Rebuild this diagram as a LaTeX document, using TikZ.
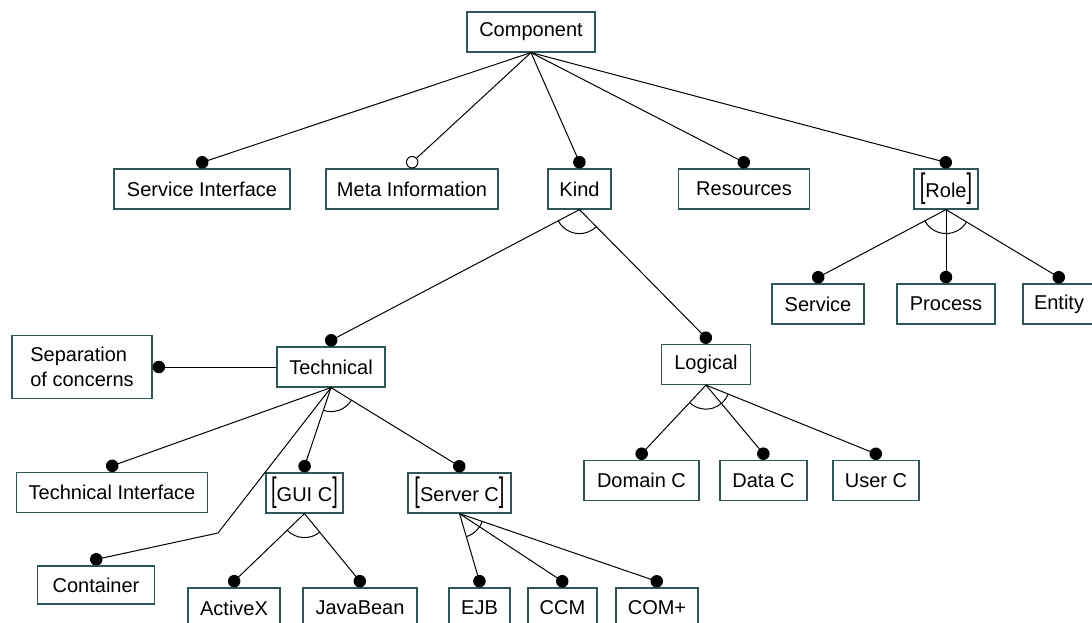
\documentclass[tikz,border=0pt]{standalone}
\usepackage{fontspec}
\usepackage{graphicx}
\setmainfont{Liberation Sans}
\usetikzlibrary{arrows.meta,calc}
\definecolor{boxline}{RGB}{50,85,85}
\newcommand{\bracketed}[1]{\scalebox{1}[1.7]{[}#1\scalebox{1}[1.7]{]}}
\newcommand{\grouparc}[3]{%
  \draw[line width=1pt] let \p0=(#1.south), \p1=([yshift=6pt]#2.north), \p2=([yshift=6pt]#3.north),
    \n1={atan2(\y1-\y0,\x1-\x0)}, \n2={atan2(\y2-\y0,\x2-\x0)} in
    ($(\p0)+(\n1:24pt)$) arc[start angle=\n1, end angle=\n2, radius=24pt];}
\begin{document}
\begin{tikzpicture}[x=1pt, y=-1pt,
    main/.style = {draw=boxline, line width=1.2pt, minimum height=40pt, inner sep=2pt, font=\fontsize{20}{24}\selectfont},
    mand/.style = {line width=1pt, -{Circle[length=12.5pt]}, shorten >=-6pt},
    opt/.style = {line width=1pt, -{Circle[open, length=12.5pt]}, shorten >=-6pt}]
    \useasboundingbox (0,0) rectangle (1092,623);

    \node[main, minimum width=128pt] (comp) at (531,32) {Component};

    \node[main, minimum width=176pt] (sint) at (202,189) {Service Interface};
    \node[main, minimum width=172pt] (meta) at (412,189) {Meta Information};
    \node[main, minimum width=63pt] (kind) at (579.5,189) {Kind};
    \node[main, minimum width=131pt] (reso) at (744,189) {Resources};
    \node[main, minimum width=64pt] (role) at (946,189) {\bracketed{Role}};

    \node[main, minimum width=92pt] (serv) at (818,304) {Service};
    \node[main, minimum width=98pt] (proc) at (946,304) {Process};
    \node[main, minimum width=72pt] (enti) at (1059,304) {Entity};

    \node[main, minimum width=108pt] (tech) at (331,367) {Technical};
    \node[main, minimum width=140pt, minimum height=63pt, align=left, font=\fontsize{20}{25}\selectfont] (sepc) at (82,367) {Separation\\of concerns};
    \node[main, minimum width=89pt] (logi) at (706,364.5) {Logical};

    \node[main, minimum width=191pt] (tint) at (112,492.5) {Technical Interface};
    \node[main, minimum width=77pt] (guic) at (304.5,493) {\bracketed{GUI C}};
    \node[main, minimum width=103pt] (serc) at (459.5,493) {\bracketed{Server C}};

    \node[main, minimum width=115pt] (domc) at (641.5,480.5) {Domain C};
    \node[main, minimum width=87pt] (datc) at (763.5,480.5) {Data C};
    \node[main, minimum width=86pt] (usrc) at (876,480.5) {User C};

    \node[main, minimum width=117pt, minimum height=38pt] (cont) at (96,585) {Container};
    \node[main, minimum width=92pt] (actx) at (234,608) {ActiveX};
    \node[main, minimum width=114pt] (jbean) at (360,608) {JavaBean};
    \node[main, minimum width=61pt] (ejb) at (479.5,608) {EJB};
    \node[main, minimum width=69pt] (ccm) at (562.5,608) {CCM};
    \node[main, minimum width=82pt] (cplus) at (657,608) {COM+};

    \coordinate (bend) at (218,533);

    \draw[mand] (comp.south) -- ([yshift=6pt]sint.north);
    \draw[opt] (comp.south) -- ([yshift=6pt]meta.north);
    \draw[mand] (comp.south) -- ([yshift=6pt]kind.north);
    \draw[mand] (comp.south) -- ([yshift=6pt]reso.north);
    \draw[mand] (comp.south) -- ([yshift=6pt]role.north);

    \draw[mand] (role.south) -- ([yshift=6pt]serv.north);
    \draw[mand] (role.south) -- ([yshift=6pt]proc.north);
    \draw[mand] (role.south) -- ([yshift=6pt]enti.north);
    \grouparc{role}{serv}{enti}

    \draw[mand] (kind.south) -- ([yshift=6pt]tech.north);
    \draw[mand] (kind.south) -- ([yshift=6pt]logi.north);
    \grouparc{kind}{tech}{logi}

    \draw[mand] (tech.west) -- ([xshift=6pt]sepc.east);
    \draw[mand] (tech.south) -- ([yshift=6pt]tint.north);
    \draw[mand] (tech.south) -- (bend) -- ([yshift=6pt]cont.north);
    \draw[mand] (tech.south) -- ([yshift=6pt]guic.north);
    \draw[mand] (tech.south) -- ([yshift=6pt]serc.north);
    \grouparc{tech}{guic}{serc}

    \draw[mand] (logi.south) -- ([yshift=6pt]domc.north);
    \draw[mand] (logi.south) -- ([yshift=6pt]datc.north);
    \draw[mand] (logi.south) -- ([yshift=6pt]usrc.north);
    \grouparc{logi}{domc}{usrc}

    \draw[mand] (guic.south) -- ([yshift=6pt]actx.north);
    \draw[mand] (guic.south) -- ([yshift=6pt]jbean.north);
    \grouparc{guic}{actx}{jbean}

    \draw[mand] (serc.south) -- ([yshift=6pt]ejb.north);
    \draw[mand] (serc.south) -- ([yshift=6pt]ccm.north);
    \draw[mand] (serc.south) -- ([yshift=6pt]cplus.north);
    \grouparc{serc}{ejb}{cplus}
\end{tikzpicture}
\end{document}
